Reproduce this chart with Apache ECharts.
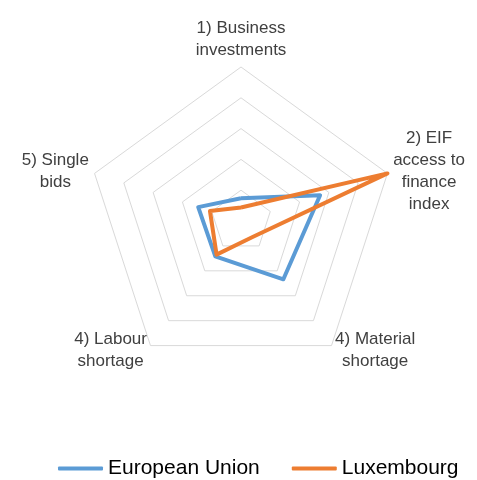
<!DOCTYPE html>
<html>
<head>
<meta charset="utf-8">
<script src="https://cdn.jsdelivr.net/npm/echarts@6/dist/echarts.min.js"></script>
<style>
  html, body { margin: 0; padding: 0; background: #fff; }
  #chart { width: 477px; height: 480px; }
</style>
</head>
<body>
<div id="chart"></div>
<script>
// indicators in reading order (clockwise from the top)
const indicators = [
  '1) Business\ninvestments',
  '2) EIF\naccess to\nfinance\nindex',
  '4) Material\nshortage',
  '4) Labour\nshortage',
  '5) Single\nbids'
];
const euValues = [0.74, 2.7, 2.34, 1.42, 1.46];
const luValues = [0.44, 5, 0.64, 1.35, 1.06];
const seriesNames = ['European Union', 'Luxembourg'];
const axisMax = 5;

// echarts lays radar axes out counter-clockwise, so flip the order
const order = [0, 4, 3, 2, 1];
const pick = (arr) => order.map((i) => arr[i]);

const chart = echarts.init(document.getElementById('chart'));

chart.setOption({
  backgroundColor: '#fff',
  textStyle: { fontFamily: 'Liberation Sans, Arial, sans-serif' },
  legend: {
    data: seriesNames,
    left: 53,
    top: 453,
    icon: 'roundRect',
    itemWidth: 45,
    itemHeight: 4,
    itemGap: 32,
    textStyle: { fontSize: 21, color: '#000' }
  },
  radar: {
    center: [241, 221],
    radius: 154,
    startAngle: 90,
    splitNumber: 5,
    shape: 'polygon',
    nameGap: 6,
    indicator: pick(indicators).map((name) => ({ name: name, min: 0, max: axisMax })),
    axisName: {
      color: '#404040',
      fontSize: 17,
      formatter: (name) => name.split('\n').map((s) => '{c|' + s + '}').join('\n'),
      rich: {
        c: { align: 'center', fontSize: 17, lineHeight: 22, color: '#404040' }
      }
    },
    axisLine: { show: false },
    splitArea: { show: false },
    splitLine: { lineStyle: { color: '#d9d9d9', width: 1 } }
  },
  series: [
    {
      type: 'radar',
      symbol: 'none',
      silent: true,
      data: [
        {
          name: seriesNames[0],
          value: pick(euValues),
          lineStyle: { color: '#5b9bd5', width: 4 },
          itemStyle: { color: '#5b9bd5' }
        },
        {
          name: seriesNames[1],
          value: pick(luValues),
          lineStyle: { color: '#ed7d31', width: 4 },
          itemStyle: { color: '#ed7d31' }
        }
      ]
    }
  ]
});

window.addEventListener('resize', () => chart.resize());
</script>
</body>
</html>
